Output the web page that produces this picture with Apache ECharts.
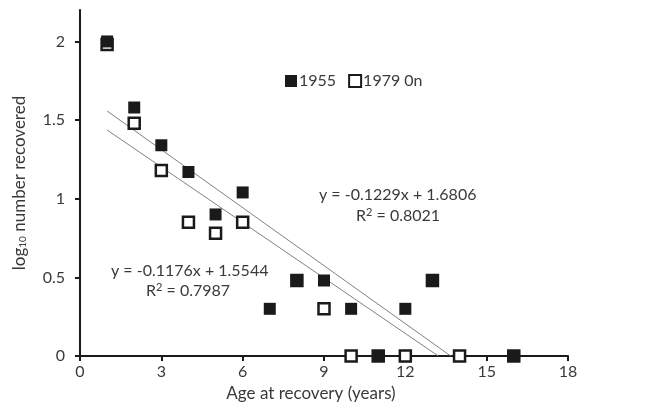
<!DOCTYPE html>
<html><head><meta charset="utf-8">
<script src="https://cdn.jsdelivr.net/npm/echarts@6/dist/echarts.min.js"></script>
<style>html,body{margin:0;padding:0;background:#fff}#c{width:655px;height:409px}</style>
</head><body><div id="c"></div>
<script>
// Data
var ages1955 = [1, 2, 3, 4, 5, 6, 7, 8, 9, 10, 11, 12, 13, 16];
var log1955  = [2.00, 1.58, 1.34, 1.17, 0.90, 1.04, 0.30, 0.48, 0.48, 0.30, 0, 0.30, 0.48, 0];
var ages1979 = [1, 2, 3, 4, 5, 6, 8, 9, 10, 11, 12, 13, 14, 16];
var log1979  = [1.98, 1.48, 1.18, 0.85, 0.78, 0.85, 0.48, 0.30, 0, 0, 0, 0.48, 0, 0];
var trend1955 = {slope: -0.1229, intercept: 1.6806, r2: 0.8021};
var trend1979 = {slope: -0.1176, intercept: 1.5544, r2: 0.7987};
var xTicks = [0, 3, 6, 9, 12, 15, 18];
var yTicks = [0, 0.5, 1, 1.5, 2];
var seriesNames = ['1955', '1979 0n'];

function pts(xs, ys){ return xs.map(function(x,i){ return [x, ys[i]]; }); }
function trendLine(t){ return [[1, t.intercept + t.slope*1], [-t.intercept/t.slope, 0]]; }

var font = 'Lato, "Open Sans", sans-serif';
var txt = '#3a3a3a';
var ink = '#1a1a1a';
var supRich = {
  n: {fontFamily: font, fontSize: 16, fill: txt, color: txt},
  s: {fontFamily: font, fontSize: 11, fill: txt, color: txt, verticalAlign: 'top', padding: [0,0,6,0]}
};
function eqText(left, top, t){
  return {type: 'text', left: left, top: top, style: {text: 'y = ' + t.slope + 'x + ' + t.intercept, font: '16px ' + font, fill: txt}};
}
function r2Text(left, top, t){
  return {type: 'text', left: left, top: top, style: {text: '{n|R}{s|2}{n| = ' + t.r2.toFixed(4) + '}', rich: supRich, font: '16px ' + font, fill: txt}};
}
var chart = echarts.init(document.getElementById('c'), null, {renderer:'canvas'});
chart.setOption({
  animation: false,
  backgroundColor: '#fff',
  grid: {left: 80, right: 87, top: 10, bottom: 53},
  legend: {
    left: 280, top: 68, itemWidth: 12, itemHeight: 12, itemGap: 12,
    textStyle: {fontFamily: font, fontSize: 16, color: txt, padding: [0,0,0,-3]},
    data: [{name: seriesNames[0], icon: 'rect'}, {name: seriesNames[1], icon: 'rect'}]
  },
  xAxis: {
    type: 'value', min: 0, max: 18, interval: 3,
    name: 'Age at recovery (years)', nameLocation: 'middle', nameGap: 28,
    nameTextStyle: {fontFamily: font, fontSize: 17, color: txt, padding: [0, 26, 0, 0]},
    axisLine: {lineStyle: {color: ink, width: 2}},
    axisTick: {show: true, length: 5, lineStyle: {color: ink, width: 2}},
    axisLabel: {fontFamily: font, fontSize: 16, color: txt, margin: 8},
    splitLine: {show: false}
  },
  yAxis: {
    type: 'value', min: 0, max: 2.2,
    name: '{a|log}{s|10}{a| number recovered}', nameLocation: 'middle', nameGap: 52,
    nameTextStyle: {fontFamily: font, fontSize: 17, color: txt,
      rich: {a: {fontFamily: font, fontSize: 17, color: txt}, s: {fontFamily: font, fontSize: 10, color: txt, verticalAlign: 'bottom', padding:[6,0,0,0]}}},
    axisLine: {show: true, lineStyle: {color: ink, width: 2}},
    axisTick: {show: true, length: 5, customValues: yTicks, lineStyle: {color: ink, width: 2}},
    axisLabel: {fontFamily: font, fontSize: 16, color: txt, margin: 15, customValues: yTicks},
    splitLine: {show: false}
  },
  series: [
    {name: seriesNames[1], type: 'scatter', symbol: 'rect', symbolSize: 11, z: 3,
     itemStyle: {color: '#fff', borderColor: ink, borderWidth: 2.5, opacity: 1},
     data: pts(ages1979, log1979)},
    {name: seriesNames[0], type: 'scatter', symbol: 'rect', symbolSize: 12, z: 4,
     itemStyle: {color: ink, opacity: 1},
     data: pts(ages1955, log1955)},
    {type: 'line', data: trendLine(trend1955), symbol: 'none', silent: true, z: 2,
     lineStyle: {color: '#808080', width: 1}},
    {type: 'line', data: trendLine(trend1979), symbol: 'none', silent: true, z: 2,
     lineStyle: {color: '#808080', width: 1}}
  ],
  graphic: [
    eqText(319, 187, trend1955),
    r2Text(356, 207, trend1955),
    eqText(111, 263, trend1979),
    r2Text(146, 282, trend1979)
  ]
});
</script></body></html>
